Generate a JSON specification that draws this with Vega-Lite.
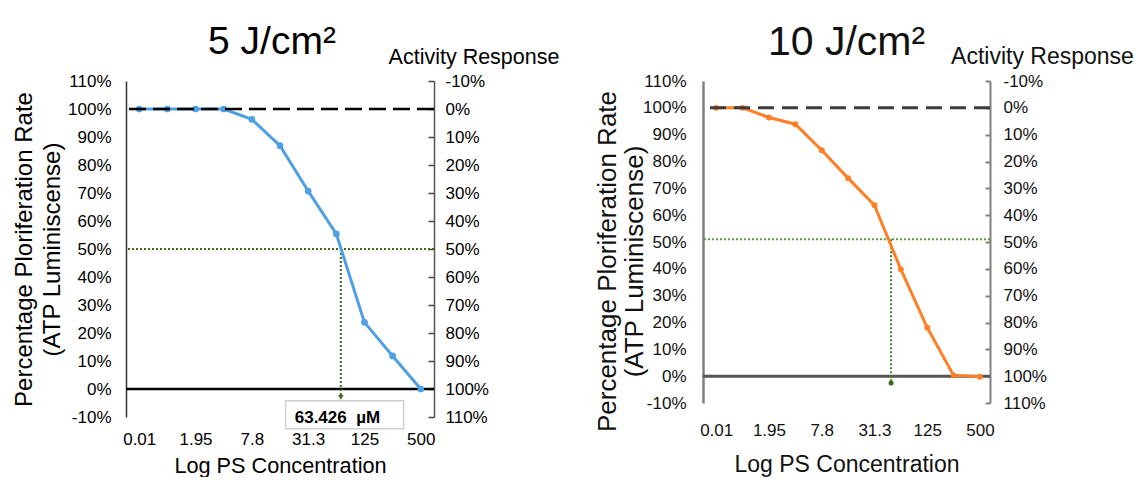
{
  "$schema": "https://vega.github.io/schema/vega-lite/v6.json",
  "background": "white",
  "padding": {"left": 12, "top": 21, "right": 0, "bottom": 0},
  "spacing": 35,
  "config": {"font": "Liberation Sans", "view": {"stroke": null}, "axis": {"grid": false, "labelOverlap": false}},
  "datasets": {
    "p5": [
      {"step": 0, "conc": "0.01", "prolif": 100},
      {"step": 1, "conc": "0.98", "prolif": 100},
      {"step": 2, "conc": "1.95", "prolif": 100},
      {"step": 3, "conc": "3.9", "prolif": 100},
      {"step": 4, "conc": "7.8", "prolif": 96.3},
      {"step": 5, "conc": "15.6", "prolif": 86.9},
      {"step": 6, "conc": "31.3", "prolif": 70.7},
      {"step": 7, "conc": "62.5", "prolif": 55.4},
      {"step": 8, "conc": "125", "prolif": 23.8},
      {"step": 9, "conc": "250", "prolif": 11.8},
      {"step": 10, "conc": "500", "prolif": 0}
    ],
    "p10": [
      {"step": 0, "conc": "0.01", "prolif": 100},
      {"step": 1, "conc": "0.98", "prolif": 100},
      {"step": 2, "conc": "1.95", "prolif": 96.4},
      {"step": 3, "conc": "3.9", "prolif": 93.9},
      {"step": 4, "conc": "7.8", "prolif": 84.2},
      {"step": 5, "conc": "15.6", "prolif": 73.8},
      {"step": 6, "conc": "31.3", "prolif": 63.7},
      {"step": 7, "conc": "62.5", "prolif": 39.8},
      {"step": 8, "conc": "125", "prolif": 18.1},
      {"step": 9, "conc": "250", "prolif": 0.3},
      {"step": 10, "conc": "500", "prolif": -0.2}
    ]
  },
  "hconcat": [
    {
      "width": 308,
      "height": 336,
      "title": {"text": "5 J/cm²", "fontSize": 39, "fontWeight": "normal", "font": "Liberation Sans", "color": "black", "frame": "group", "anchor": "middle", "baseline": "alphabetic", "offset": -46, "dx": -8},
      "layer": [
        {
          "encoding": {
            "y": {"field": "prolif", "type": "quantitative", "scale": {"domain": [-10, 110], "nice": false, "zero": false},
              "axis": {"orient": "left", "values": [-10, 0, 10, 20, 30, 40, 50, 60, 70, 80, 90, 100, 110], "labelExpr": "datum.value + '%'", "labelOverlap": false, "tickCount": 13,
                "title": ["Percentage Ploriferation Rate", "(ATP Luminiscense)"], "titleFontSize": 24, "titleFontWeight": "normal", "titleLineHeight": 28, "titleColor": "black", "titlePadding": 3,
                "labelFontSize": 17, "labelColor": "black", "labelPadding": 15, "ticks": false, "domainColor": "#333333", "domainWidth": 1.5}}
          },
          "layer": [
            {
              "data": {"values": [{"prolif": 0}]},
              "mark": {"type": "rule", "color": "black", "strokeWidth": 2.5}
            },
            {
              "data": {"values": [{"prolif": 50}]},
              "mark": {"type": "rule", "color": "#3a6b1c", "strokeWidth": 2, "strokeDash": [2, 2]}
            },
            {
              "data": {"values": [{"step": 7.16, "prolif": 50, "prolif_end": -2.5}]},
              "mark": {"type": "rule", "color": "#3a6b1c", "strokeWidth": 2, "strokeDash": [2, 2]},
              "encoding": {
                "x": {"field": "step", "type": "quantitative"},
                "y2": {"field": "prolif_end"}
              }
            },
            {
              "data": {"values": [{"step": 7.16, "prolif": -3}]},
              "mark": {"type": "point", "shape": "triangle-down", "filled": true, "color": "#3a6b1c", "size": 30, "opacity": 1},
              "encoding": {
                "x": {"field": "step", "type": "quantitative"}
              }
            },
            {
              "data": {"values": [{"step": 5.2, "step_end": 9.39, "prolif": -4.2, "prolif_end": -14.2}]},
              "mark": {"type": "rect", "fill": "white", "stroke": "#cfcfcf", "strokeWidth": 1.5, "clip": false},
              "encoding": {
                "x": {"field": "step", "type": "quantitative"},
                "x2": {"field": "step_end"},
                "y2": {"field": "prolif_end"}
              }
            },
            {
              "data": {"values": [{"step": 7.04, "prolif": -10.4, "label": "63.426\u00a0\u00a0µM"}]},
              "mark": {"type": "text", "fontSize": 17, "fontWeight": "bold", "color": "black", "align": "center", "baseline": "middle", "clip": false},
              "encoding": {
                "x": {"field": "step", "type": "quantitative"},
                "text": {"field": "label"}
              }
            },
            {
              "data": {"name": "p5"},
              "mark": {"type": "line", "color": "#4f9fe3", "strokeWidth": 3, "point": {"filled": true, "size": 45, "color": "#4f9fe3", "opacity": 1}},
              "encoding": {
                "x": {"field": "step", "type": "quantitative", "scale": {"domain": [-0.47, 10.47], "nice": false, "zero": false},
                  "axis": {"values": [0, 2, 4, 6, 8, 10], "labelExpr": "['0.01','0.98','1.95','3.9','7.8','15.6','31.3','62.5','125','250','500'][datum.value]", "labelOverlap": false,
                    "title": "Log PS Concentration", "titleFontSize": 21.7, "titleFontWeight": "normal", "titleColor": "black", "titlePadding": 8,
                    "labelFontSize": 17, "labelColor": "black", "labelPadding": 14, "ticks": false, "domain": false}}
              }
            }
          ]
        },
        {
          "data": {"values": [{"activity": 0}]},
          "mark": {"type": "rule", "color": "black", "strokeWidth": 2.5, "strokeDash": [17, 7]},
          "encoding": {
            "y": {"field": "activity", "type": "quantitative", "scale": {"domain": [-10, 110], "nice": false, "zero": false, "reverse": true},
              "axis": {"orient": "right", "values": [-10, 0, 10, 20, 30, 40, 50, 60, 70, 80, 90, 100, 110], "labelExpr": "datum.value + '%'", "labelOverlap": false,
                "title": "Activity Response", "titleFontSize": 21.5, "titleFontWeight": "normal", "titleColor": "black", "titleAngle": 0, "titleAlign": "center", "titleBaseline": "alphabetic", "titleX": 39.5, "titleY": -17.3,
                "labelFontSize": 17, "labelColor": "black", "labelPadding": 17, "tickSize": -6, "tickColor": "#444444", "tickWidth": 1.5, "domainColor": "#555555", "domainWidth": 1.5}}
          }
        }
      ],
      "resolve": {"scale": {"y": "independent"}}
    },
    {
      "width": 287,
      "height": 322,
      "title": {"text": "10 J/cm²", "fontSize": 41, "fontWeight": "normal", "font": "Liberation Sans", "color": "#111111", "frame": "group", "anchor": "middle", "baseline": "alphabetic", "offset": -50.5},
      "layer": [
        {
          "encoding": {
            "y": {"field": "prolif", "type": "quantitative", "scale": {"domain": [-10, 110], "nice": false, "zero": false},
              "axis": {"orient": "left", "values": [-10, 0, 10, 20, 30, 40, 50, 60, 70, 80, 90, 100, 110], "labelExpr": "datum.value + '%'", "labelOverlap": false, "tickCount": 13,
                "title": ["Percentage Ploriferation Rate", "(ATP Luminiscense)"], "titleFontSize": 26, "titleFontWeight": "normal", "titleLineHeight": 27, "titleColor": "#111111",
                "titleX": -95.5, "titleY": 180, "titleAlign": "center", "titleBaseline": "middle",
                "labelFontSize": 17, "labelColor": "#111111", "labelPadding": 17, "ticks": false, "domainColor": "#808080", "domainWidth": 2.5}}
          },
          "layer": [
            {
              "data": {"values": [{"prolif": 0}]},
              "mark": {"type": "rule", "color": "#555555", "strokeWidth": 3}
            },
            {
              "data": {"values": [{"prolif": 51}]},
              "mark": {"type": "rule", "color": "#5a9e3a", "strokeWidth": 2, "strokeDash": [2, 2]}
            },
            {
              "data": {"values": [{"step": 6.63, "prolif": 51, "prolif_end": -2.5}]},
              "mark": {"type": "rule", "color": "#3f7f25", "strokeWidth": 2, "strokeDash": [2, 2]},
              "encoding": {
                "x": {"field": "step", "type": "quantitative"},
                "y2": {"field": "prolif_end"}
              }
            },
            {
              "data": {"values": [{"step": 6.63, "prolif": -2.5}]},
              "mark": {"type": "point", "shape": "circle", "filled": true, "color": "#2f6a1a", "size": 25, "opacity": 1},
              "encoding": {
                "x": {"field": "step", "type": "quantitative"}
              }
            },
            {
              "data": {"name": "p10"},
              "mark": {"type": "line", "color": "#ff7f27", "strokeWidth": 3, "point": {"filled": true, "size": 35, "color": "#ff7f27", "opacity": 1}},
              "encoding": {
                "x": {"field": "step", "type": "quantitative", "scale": {"domain": [-0.5, 10.38], "nice": false, "zero": false},
                  "axis": {"values": [0, 2, 4, 6, 8, 10], "labelExpr": "['0.01','0.98','1.95','3.9','7.8','15.6','31.3','62.5','125','250','500'][datum.value]", "labelOverlap": false,
                    "title": "Log PS Concentration", "titleFontSize": 23, "titleFontWeight": "normal", "titleColor": "#111111", "titlePadding": 15,
                    "labelFontSize": 17, "labelColor": "#111111", "labelPadding": 19, "ticks": false, "domain": false}}
              }
            }
          ]
        },
        {
          "data": {"values": [{"activity": 0}]},
          "mark": {"type": "rule", "color": "#3c3c3c", "strokeWidth": 3, "strokeDash": [16, 8]},
          "encoding": {
            "y": {"field": "activity", "type": "quantitative", "scale": {"domain": [-10, 110], "nice": false, "zero": false, "reverse": true},
              "axis": {"orient": "right", "values": [-10, 0, 10, 20, 30, 40, 50, 60, 70, 80, 90, 100, 110], "labelExpr": "datum.value + '%'", "labelOverlap": false,
                "title": "Activity Response", "titleFontSize": 23, "titleFontWeight": "normal", "titleColor": "#111111", "titleAngle": 0, "titleAlign": "center", "titleBaseline": "alphabetic", "titleX": 52, "titleY": -18,
                "labelFontSize": 17, "labelColor": "#111111", "labelPadding": 18, "tickSize": -5, "tickColor": "#808080", "tickWidth": 2, "domainColor": "#808080", "domainWidth": 2}}
          }
        }
      ],
      "resolve": {"scale": {"y": "independent"}}
    }
  ]
}
